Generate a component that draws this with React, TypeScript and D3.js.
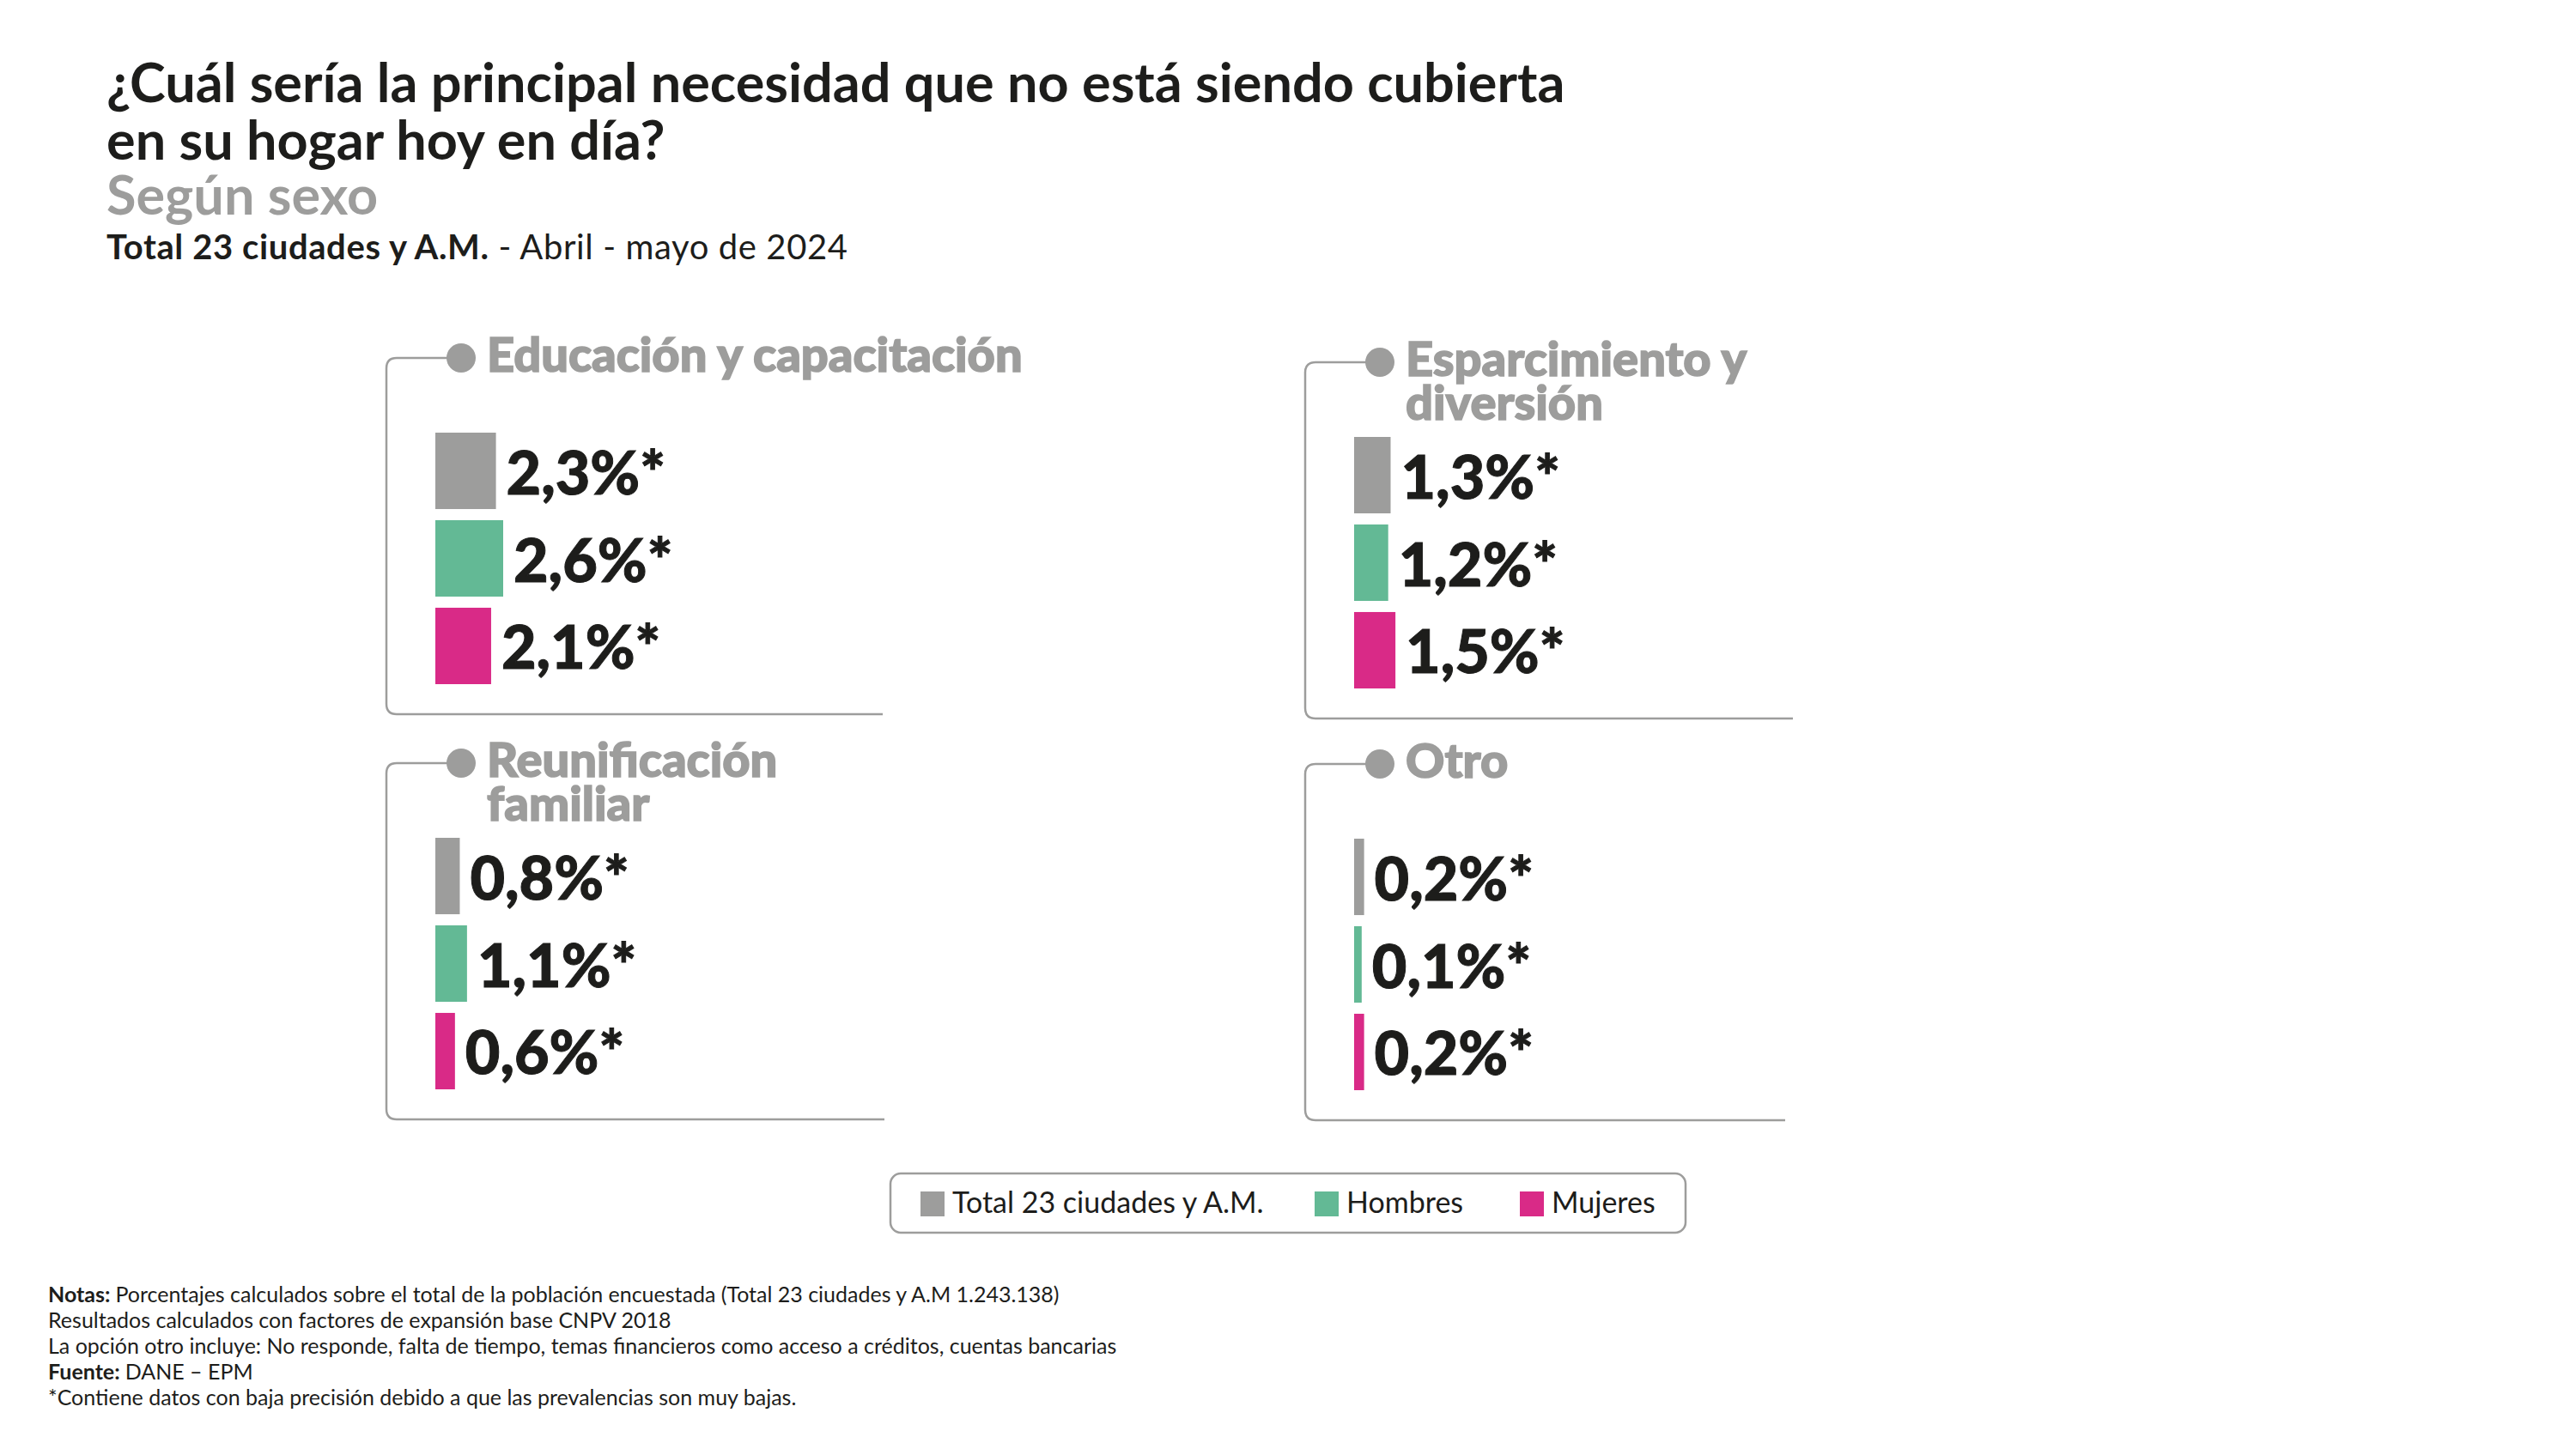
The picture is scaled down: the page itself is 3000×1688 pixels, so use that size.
import React from "react";
import * as d3 from "d3";

const categoryLines: string[][] = [
  ["Educación y capacitación"],
  ["Esparcimiento y", "diversión"],
  ["Reunificación", "familiar"],
  ["Otro"],
];
const seriesNames = ["Total 23 ciudades y A.M.", "Hombres", "Mujeres"];
const seriesColors = ["#9d9d9c", "#63b995", "#d92a87"];
const totalValues = [2.3, 1.3, 0.8, 0.2];
const hombresValues = [2.6, 1.2, 1.1, 0.1];
const mujeresValues = [2.1, 1.5, 0.6, 0.2];

const titleLines = [
  "¿Cuál sería la principal necesidad que no está siendo cubierta",
  "en su hogar hoy en día?",
];
const subtitle = "Según sexo";
const subBold = "Total 23 ciudades y A.M.";
const subRegular = " - Abril - mayo de 2024";
const notes: [string, string][] = [
  ["Notas: ", "Porcentajes calculados sobre el total de la población encuestada (Total 23 ciudades y A.M 1.243.138)"],
  ["", "Resultados calculados con factores de expansión base CNPV 2018"],
  ["", "La opción otro incluye: No responde, falta de tiempo, temas financieros como acceso a créditos, cuentas bancarias"],
  ["Fuente: ", "DANE – EPM"],
  ["", "*Contiene datos con baja precisión debido a que las prevalencias son muy bajas."],
];

const FONT = "Lato, 'Open Sans', sans-serif";
const GREY = "#9d9d9c";
const BLACK = "#1d1d1b";

const panelOrigins = [
  { x: 450, y: 417, w: 578 },
  { x: 1520, y: 422, w: 568 },
  { x: 450, y: 889, w: 580 },
  { x: 1520, y: 890, w: 559 },
];

const fmt = (v: number) => v.toFixed(1).replace(".", ",") + "%*";

export default function App() {
  const allVals = [...totalValues, ...hombresValues, ...mujeresValues];
  const xScale = d3.scaleLinear().domain([0, d3.max(allVals) as number]).range([6, 79]);
  const yBand = d3.scaleBand<string>().domain(seriesNames).range([0, 293]).paddingInner(0.127);
  const valuesBySeries = [totalValues, hombresValues, mujeresValues];

  return (
    <svg
      width={3000}
      height={1688}
      style={{ position: "absolute", left: 0, top: 0, background: "#fff" }}
      fontFamily={FONT}
    >
      <rect x={0} y={0} width={3000} height={1688} fill="#fff" />
      {titleLines.map((t, i) => (
        <text key={i} x={124} y={119 + i * 67} fontSize={63} fontWeight={700} fill={BLACK}>
          {t}
        </text>
      ))}
      <text x={124} y={250} fontSize={63} fontWeight={700} fill={GREY}>
        {subtitle}
      </text>
      <text x={124} y={302} fontSize={40} fill={BLACK} letterSpacing={0.6}>
        <tspan fontWeight={700}>{subBold}</tspan>
        <tspan fontWeight={400}>{subRegular}</tspan>
      </text>

      {categoryLines.map((lines, ci) => {
        const o = panelOrigins[ci];
        const r = 12;
        const bottom = o.y + 415;
        const path = `M${o.x + 87},${o.y} L${o.x + r},${o.y} Q${o.x},${o.y} ${o.x},${o.y + r} L${o.x},${bottom - r} Q${o.x},${bottom} ${o.x + r},${bottom} L${o.x + o.w},${bottom}`;
        const barX = o.x + 57;
        const barTop = o.y + 87;
        return (
          <g key={ci}>
            <path d={path} fill="none" stroke={GREY} strokeWidth={2.5} />
            <circle cx={o.x + 87} cy={o.y} r={17} fill={GREY} />
            {lines.map((l, li) => (
              <text
                key={li}
                x={o.x + 117}
                y={o.y + 16 + li * 51}
                fontSize={56}
                fontWeight={900}
                fill={GREY}
                stroke={GREY}
                strokeWidth={1.6}
              >
                {l}
              </text>
            ))}
            {seriesNames.map((s, si) => {
              const v = valuesBySeries[si][ci];
              const y = barTop + (yBand(s) as number);
              const w = xScale(v);
              return (
                <g key={s}>
                  <rect x={barX} y={y} width={w} height={yBand.bandwidth()} fill={seriesColors[si]} />
                  <text
                    x={barX + w + 12}
                    y={y + yBand.bandwidth() / 2 + 27}
                    fontSize={70}
                    fontWeight={900}
                    fill={BLACK}
                    stroke={BLACK}
                    strokeWidth={1}
                  >
                    {fmt(v)}
                  </text>
                </g>
              );
            })}
          </g>
        );
      })}

      <rect x={1037} y={1367} width={926} height={69} rx={12} fill="#fff" stroke={GREY} strokeWidth={2.5} />
      {seriesNames.map((s, i) => {
        const xs = [1072, 1531, 1770];
        return (
          <g key={s}>
            <rect x={xs[i]} y={1388} width={28} height={29} fill={seriesColors[i]} />
            <text x={xs[i] + 37} y={1413} fontSize={34} fill={BLACK}>
              {s}
            </text>
          </g>
        );
      })}

      {notes.map(([b, r], i) => (
        <text key={i} x={56} y={1517 + i * 30} fontSize={25} fill={BLACK}>
          {b && <tspan fontWeight={700}>{b}</tspan>}
          <tspan>{r}</tspan>
        </text>
      ))}
    </svg>
  );
}
